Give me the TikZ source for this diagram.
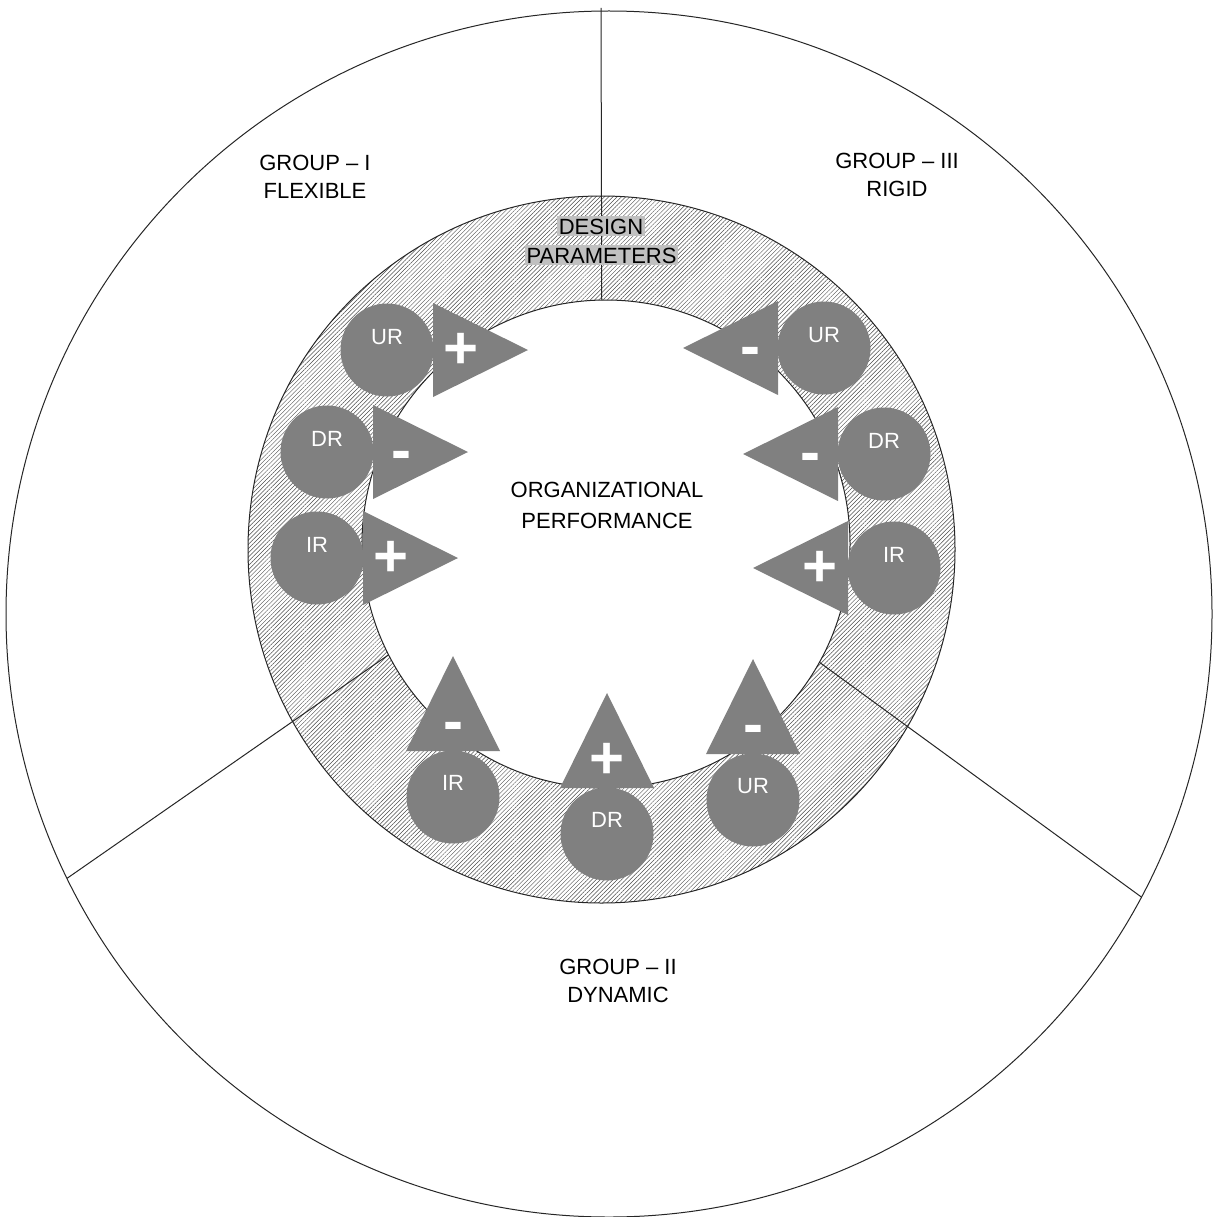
\documentclass[tikz,border=0pt]{standalone}
\usepackage{fontspec}
\setmainfont{Liberation Sans}
\usetikzlibrary{patterns.meta}
\definecolor{resgray}{HTML}{808080}
\definecolor{hlgray}{HTML}{C0C0C0}
\tikzset{
  ring line/.style={circle,draw=black!85,line width=1pt,inner sep=0pt,outer sep=0pt},
  divider/.style={draw=black!85,line width=1pt},
  res node/.style={circle,fill=resgray,inner sep=0pt,minimum size=93pt},
  res tri/.style={fill=resgray},
  res label/.style={text=white,inner sep=0pt,font=\fontsize{22}{26}\selectfont},
  sign/.style={text=white,inner sep=0pt,text height=36pt,text depth=0pt,font=\fontsize{60}{60}\selectfont\bfseries},
  group label/.style={align=center,inner sep=0pt,font=\fontsize{22}{28}\selectfont},
  param label/.style={fill=hlgray,inner xsep=2pt,inner ysep=2pt,text height=16pt,text depth=0pt,font=\fontsize{22}{26}\selectfont}
}
\begin{document}
\begin{tikzpicture}[x=1pt,y=-1pt]
\path[use as bounding box,fill=white] (0,0) rectangle (1212,1217);
%hatched ring
\fill[pattern={Lines[angle=45,distance=3pt,line width=0.45pt]},pattern color=black!70,even odd rule]
  (601.5,549.5) circle[radius=353.5pt] (606,544) circle[radius=244pt];
%circles
\node[ring line,minimum size=1206pt] (outer) at (609,614) {};
\node[ring line,minimum size=707pt] (ring) at (601.5,549.5) {};
\node[ring line,minimum size=488pt] (inner) at (606,544) {};
%dividers
\coordinate (top) at (601,8);
\draw[divider] (top) -- (inner.91);
\draw[divider] (inner.207) -- (outer.206);
\draw[divider] (inner.331) -- (outer.332);
%group I: UR
\node[res node] (ur1) at (387,350) {};
\fill[res tri] ([shift={(46,-47)}]ur1.center) -- ++(0,94) -- ++(95,-47) -- cycle;
\node[sign] (ur1s) at ([xshift=74pt]ur1.center) {+};
\node[res label] (ur1t) at ([yshift=13pt]ur1.center) {UR};
%group I: DR
\node[res node] (dr1) at (327,452) {};
\fill[res tri] ([shift={(46,-47)}]dr1.center) -- ++(0,94) -- ++(95,-47) -- cycle;
\node[sign] (dr1s) at ([xshift=74pt]dr1.center) {-};
\node[res label] (dr1t) at ([yshift=13pt]dr1.center) {DR};
%group I: IR
\node[res node] (ir1) at (317,558) {};
\fill[res tri] ([shift={(46,-47)}]ir1.center) -- ++(0,94) -- ++(95,-47) -- cycle;
\node[sign] (ir1s) at ([xshift=74pt]ir1.center) {+};
\node[res label] (ir1t) at ([yshift=13pt]ir1.center) {IR};
%group III: UR
\node[res node] (ur3) at (824,348) {};
\fill[res tri] ([shift={(-46,-47)}]ur3.center) -- ++(0,94) -- ++(-95,-47) -- cycle;
\node[sign] (ur3s) at ([xshift=-74pt]ur3.center) {-};
\node[res label] (ur3t) at ([yshift=13pt]ur3.center) {UR};
%group III: DR
\node[res node] (dr3) at (884,454) {};
\fill[res tri] ([shift={(-46,-47)}]dr3.center) -- ++(0,94) -- ++(-95,-47) -- cycle;
\node[sign] (dr3s) at ([xshift=-74pt]dr3.center) {-};
\node[res label] (dr3t) at ([yshift=13pt]dr3.center) {DR};
%group III: IR
\node[res node] (ir3) at (894,568) {};
\fill[res tri] ([shift={(-46,-47)}]ir3.center) -- ++(0,94) -- ++(-95,-47) -- cycle;
\node[sign] (ir3s) at ([xshift=-74pt]ir3.center) {+};
\node[res label] (ir3t) at ([yshift=13pt]ir3.center) {IR};
%group II: IR
\node[res node] (ir2) at (453,797) {};
\fill[res tri] ([shift={(-47,-46)}]ir2.center) -- ++(94,0) -- ++(-47,-95) -- cycle;
\node[sign] (ir2s) at ([yshift=74pt]ir2.center) {-};
\node[res label] (ir2t) at ([yshift=14pt]ir2.center) {IR};
%group II: DR
\node[res node] (dr2) at (607,834) {};
\fill[res tri] ([shift={(-47,-46)}]dr2.center) -- ++(94,0) -- ++(-47,-95) -- cycle;
\node[sign] (dr2s) at ([yshift=74pt]dr2.center) {+};
\node[res label] (dr2t) at ([yshift=14pt]dr2.center) {DR};
%group II: UR
\node[res node] (ur2) at (753,800) {};
\fill[res tri] ([shift={(-47,-46)}]ur2.center) -- ++(94,0) -- ++(-47,-95) -- cycle;
\node[sign] (ur2s) at ([yshift=74pt]ur2.center) {-};
\node[res label] (ur2t) at ([yshift=14pt]ur2.center) {UR};
%texts
\node[param label] (design) at (601,226) {DESIGN};
\node[param label] (params) at (601.5,255) {PARAMETERS};
\node[group label,font=\fontsize{22}{31}\selectfont] (perf) at (607,505.5) {ORGANIZATIONAL\\PERFORMANCE};
\node[group label] (flex) at (315,177) {GROUP -- I\\FLEXIBLE};
\node[group label] (rigid) at (897,175) {GROUP -- III\\RIGID};
\node[group label] (dyn) at (618,981) {GROUP -- II\\DYNAMIC};
\end{tikzpicture}
\end{document}
